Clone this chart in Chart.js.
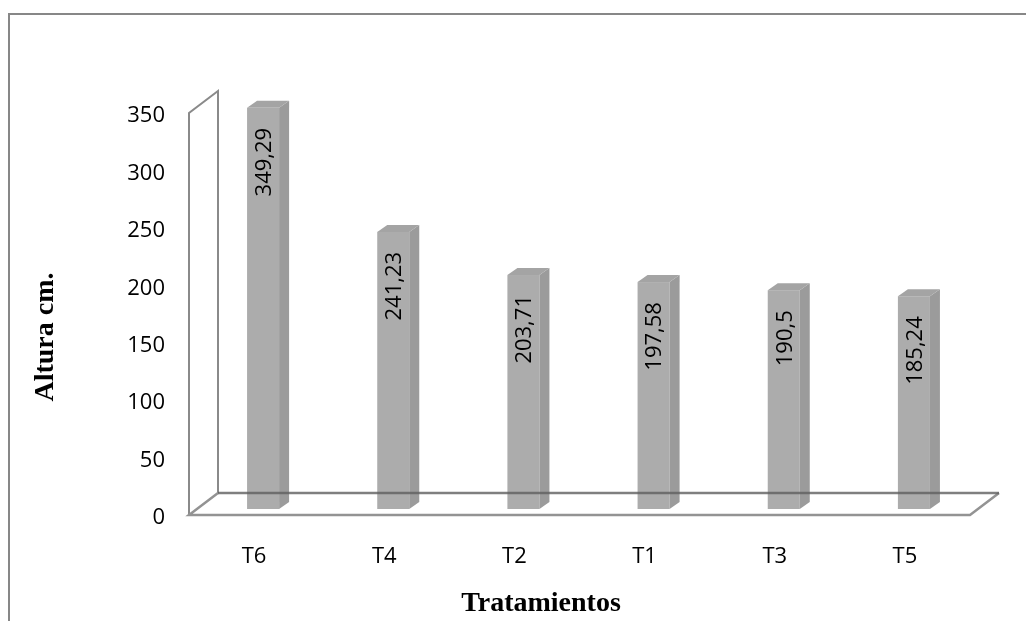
<!DOCTYPE html>
<html>
<head>
<meta charset="utf-8">
<title>Altura por tratamiento</title>
<script src="https://cdn.jsdelivr.net/npm/chart.js@4.4.1/dist/chart.umd.min.js"></script>
<style>
  html, body { margin: 0; padding: 0; background: #fff; }
  canvas { display: block; }
</style>
</head>
<body>
<canvas id="bar-chart" width="1026" height="621"></canvas>
<script>
// tratamientos ordenados de mayor a menor altura
const tratamientos = ["T6", "T4", "T2", "T1", "T3", "T5"];
const alturas = [349.29, 241.23, 203.71, 197.58, 190.5, 185.24];
const yMin = 0;
const yMax = 350;
const yStep = 50;

const tickFont = { family: "Open Sans", size: 22 };
const titleFont = "bold 28px 'Liberation Serif'";

// profundidad del piso y de las barras (efecto 3D)
const depth = { x: 29, y: -22 };
const barFront = { x: 9, y: -6 };
const barDepth = { x: 10, y: -7 };

function formatValue(v) {
  return String(v).replace(".", ",");
}

const chart3d = {
  id: "chart3d",
  afterDatasetsDraw(chart) {
    const ctx = chart.ctx;
    const area = chart.chartArea;
    const meta = chart.getDatasetMeta(0);
    const L = area.left, R = area.right, B = area.bottom, T = area.top;

    ctx.save();

    // marco exterior
    ctx.strokeStyle = "#878787";
    ctx.lineWidth = 2;
    ctx.strokeRect(9, 14, 1200, 800);

    // pared izquierda
    ctx.strokeStyle = "#8a8a8a";
    ctx.beginPath();
    ctx.moveTo(L, B);
    ctx.lineTo(L, T);
    ctx.lineTo(L + depth.x, T + depth.y);
    ctx.lineTo(L + depth.x, B + depth.y);
    ctx.stroke();

    // piso
    ctx.strokeStyle = "#939393";
    ctx.lineWidth = 2.5;
    ctx.beginPath();
    ctx.moveTo(L + depth.x, B + depth.y);
    ctx.lineTo(L, B);
    ctx.lineTo(R, B);
    ctx.lineTo(R + depth.x, B + depth.y);
    ctx.stroke();

    // barras
    meta.data.forEach((bar, i) => {
      const w = bar.width;
      const fx = bar.x - w / 2 + barFront.x;
      const top = bar.y + barFront.y;
      const bottom = bar.base + barFront.y;

      ctx.fillStyle = "#acacac";
      ctx.fillRect(fx, top, w, bottom - top);

      ctx.fillStyle = "#9b9b9b";
      ctx.beginPath();
      ctx.moveTo(fx + w, top);
      ctx.lineTo(fx + w + barDepth.x, top + barDepth.y);
      ctx.lineTo(fx + w + barDepth.x, bottom + barDepth.y);
      ctx.lineTo(fx + w, bottom);
      ctx.closePath();
      ctx.fill();

      ctx.fillStyle = "#a4a4a4";
      ctx.beginPath();
      ctx.moveTo(fx, top);
      ctx.lineTo(fx + barDepth.x, top + barDepth.y);
      ctx.lineTo(fx + w + barDepth.x, top + barDepth.y);
      ctx.lineTo(fx + w, top);
      ctx.closePath();
      ctx.fill();
    });

    // borde trasero del piso, por encima de las barras
    ctx.strokeStyle = "rgba(95,95,95,0.8)";
    ctx.lineWidth = 2.5;
    ctx.beginPath();
    ctx.moveTo(L + depth.x, B + depth.y);
    ctx.lineTo(R + depth.x, B + depth.y);
    ctx.stroke();

    // etiquetas de valor, verticales
    ctx.fillStyle = "#000";
    ctx.font = tickFont.size + "px '" + tickFont.family + "'";
    ctx.textAlign = "right";
    ctx.textBaseline = "alphabetic";
    meta.data.forEach((bar, i) => {
      const cx = bar.x + barFront.x;
      const top = bar.y + barFront.y;
      ctx.save();
      ctx.translate(cx, top + 20);
      ctx.rotate(-Math.PI / 2);
      ctx.fillText(formatValue(alturas[i]), 0, tickFont.size * 0.357);
      ctx.restore();
    });

    // titulos de los ejes
    ctx.font = titleFont;
    ctx.textAlign = "center";
    ctx.fillText("Tratamientos", 541, 611);
    ctx.save();
    ctx.translate(53, 337);
    ctx.rotate(-Math.PI / 2);
    ctx.fillText("Altura cm.", 0, 0);
    ctx.restore();

    ctx.restore();
  }
};

new Chart(document.getElementById("bar-chart"), {
  type: "bar",
  data: {
    labels: tratamientos,
    datasets: [
      {
        label: "Altura cm.",
        data: alturas,
        backgroundColor: "rgba(0,0,0,0)",
        borderWidth: 0,
        categoryPercentage: 1,
        barPercentage: 0.246
      }
    ]
  },
  options: {
    responsive: false,
    animation: false,
    devicePixelRatio: 1,
    layout: { padding: { top: 113, right: 56, left: 0, bottom: 0 } },
    plugins: {
      legend: { display: false },
      tooltip: { enabled: false }
    },
    scales: {
      x: {
        grid: { display: false, drawTicks: false },
        border: { display: false },
        ticks: { font: tickFont, color: "#000", padding: 29, maxRotation: 0 },
        afterFit: (scale) => { scale.height = 106; }
      },
      y: {
        min: yMin,
        max: yMax,
        grid: { display: false, drawTicks: false },
        border: { display: false },
        ticks: { stepSize: yStep, font: tickFont, color: "#000", padding: 24, labelOffset: 3 },
        afterFit: (scale) => { scale.width = 189; }
      }
    }
  },
  plugins: [chart3d]
});
</script>
</body>
</html>
